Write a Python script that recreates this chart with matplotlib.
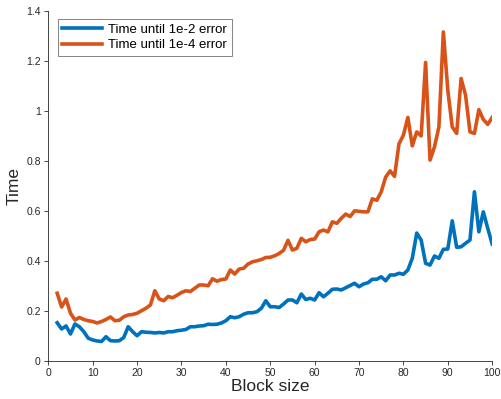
import matplotlib

matplotlib.use("Agg")
import matplotlib.pyplot as plt
import numpy as np

plt.rcParams["font.family"] = ["Liberation Sans", "DejaVu Sans"]

block_size = np.arange(2, 101)

time_1e2 = [
    0.152, 0.127, 0.139, 0.107, 0.147, 0.136, 0.116, 0.090, 0.083, 0.079,
    0.077, 0.096, 0.080, 0.079, 0.080, 0.093, 0.136, 0.116, 0.100, 0.116,
    0.114, 0.113, 0.111, 0.113, 0.111, 0.116, 0.116, 0.120, 0.122, 0.125,
    0.136, 0.136, 0.139, 0.140, 0.146, 0.145, 0.146, 0.151, 0.160, 0.176,
    0.172, 0.176, 0.186, 0.192, 0.192, 0.196, 0.210, 0.240, 0.216, 0.216,
    0.213, 0.227, 0.243, 0.243, 0.232, 0.267, 0.245, 0.250, 0.243, 0.272,
    0.256, 0.270, 0.286, 0.287, 0.283, 0.292, 0.301, 0.310, 0.296, 0.307,
    0.312, 0.326, 0.326, 0.336, 0.320, 0.343, 0.343, 0.350, 0.346, 0.363,
    0.410, 0.511, 0.483, 0.390, 0.383, 0.419, 0.410, 0.446, 0.447, 0.560,
    0.454, 0.456, 0.470, 0.483, 0.676, 0.516, 0.596, 0.530, 0.467,
]

time_1e4 = [
    0.270, 0.215, 0.247, 0.190, 0.163, 0.173, 0.165, 0.160, 0.157, 0.151,
    0.157, 0.165, 0.175, 0.160, 0.162, 0.176, 0.183, 0.185, 0.190, 0.200,
    0.210, 0.223, 0.280, 0.247, 0.240, 0.257, 0.252, 0.262, 0.273, 0.280,
    0.277, 0.290, 0.303, 0.303, 0.300, 0.328, 0.318, 0.325, 0.327, 0.363,
    0.347, 0.367, 0.370, 0.387, 0.396, 0.400, 0.405, 0.413, 0.414, 0.420,
    0.429, 0.442, 0.482, 0.443, 0.450, 0.490, 0.476, 0.485, 0.487, 0.516,
    0.523, 0.516, 0.556, 0.550, 0.570, 0.587, 0.577, 0.600, 0.598, 0.596,
    0.596, 0.648, 0.642, 0.676, 0.735, 0.760, 0.738, 0.868, 0.903, 0.974,
    0.860, 0.916, 0.900, 1.194, 0.803, 0.856, 0.936, 1.316, 1.083, 0.936,
    0.910, 1.130, 1.063, 0.916, 0.910, 1.005, 0.966, 0.946, 0.974,
]

labels = ["Time until 1e-2 error", "Time until 1e-4 error"]
colors = ["#0072BD", "#D95319"]
axis_color = "#262626"

fig = plt.figure(figsize=(5.01, 3.99), dpi=100)
ax = fig.add_axes([0.0964, 0.096, 0.886, 0.8764])

ax.plot(block_size, time_1e2, color=colors[0], lw=2.6, label=labels[0])
ax.plot(block_size, time_1e4, color=colors[1], lw=2.6, label=labels[1])

ax.set_xlim(0, 100)
ax.set_ylim(0, 1.4)
ax.set_xticks(np.arange(0, 101, 10))
ax.set_yticks([0, 0.2, 0.4, 0.6, 0.8, 1, 1.2, 1.4])
ax.set_yticklabels(["0", "0.2", "0.4", "0.6", "0.8", "1", "1.2", "1.4"])

for side in ["top", "right"]:
    ax.spines[side].set_visible(False)
for side in ["left", "bottom"]:
    ax.spines[side].set_color(axis_color)
    ax.spines[side].set_linewidth(0.6)

ax.tick_params(direction="out", length=3, width=0.6, colors=axis_color,
               labelsize=7.5, labelcolor=axis_color, pad=2.5)

ax.set_xlabel("Block size", fontsize=12.5, color=axis_color, labelpad=0.5)
ax.set_ylabel("Time", fontsize=12.5, color=axis_color, labelpad=3)

leg = ax.legend(loc="upper left", bbox_to_anchor=(0.015, 0.985), fontsize=9.5,
                frameon=True, fancybox=False, handlelength=3.0,
                borderpad=0.35, labelspacing=0.25, handletextpad=0.5,
                borderaxespad=0.2)
leg.get_frame().set_edgecolor("#4d4d4d")
leg.get_frame().set_linewidth(0.6)

fig.savefig("out.png", dpi=100)
